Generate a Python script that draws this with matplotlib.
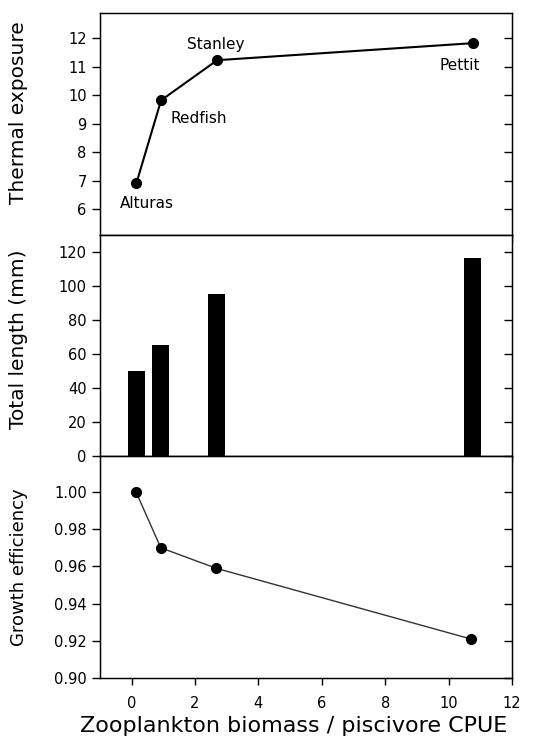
import numpy as np
import matplotlib.pyplot as plt
from matplotlib.ticker import FormatStrFormatter

# datos
lagos = ["Alturas", "Redfish", "Stanley", "Pettit"]
ratio_zoo = [0.15, 0.93, 2.7, 10.78]
exposicion_termica = [6.9, 9.82, 11.23, 11.83]
ratio_barras = [0.15, 0.92, 2.68, 10.76]
largo_total = [50, 65, 95, 116]
ratio_eficiencia = [0.14, 0.92, 2.67, 10.72]
eficiencia = [1.000, 0.970, 0.959, 0.921]

# donde va cada etiqueta respecto del punto (pixeles)
offsets_etiquetas = [(11, -20), (38, -18), (-1, 16), (-14, -22)]

plt.rcParams['font.family'] = ['DejaVu Sans']

fig = plt.figure(figsize=(5.4, 7.47), dpi=100)
gs = fig.add_gridspec(3, 1, left=0.185, right=0.948, top=0.983, bottom=0.092, hspace=0)
ax1 = fig.add_subplot(gs[0])
ax2 = fig.add_subplot(gs[1])
ax3 = fig.add_subplot(gs[2])

#panel 1
ax1.plot(ratio_zoo, exposicion_termica, color='black', linewidth=1.5, marker='o', markersize=7)
for lago, x, y, off in zip(lagos, ratio_zoo, exposicion_termica, offsets_etiquetas):
  ax1.annotate(lago, (x, y), xytext=off, textcoords='offset pixels', ha='center', va='center', fontsize=11)
ax1.set_ylim(5.1, 12.9)
ax1.set_yticks(range(6, 13))
ax1.set_ylabel("Thermal exposure", fontsize=14.5)

#panel 2
ax2.bar(ratio_barras, largo_total, width=0.55, color='black')
ax2.set_ylim(0, 130)
ax2.set_yticks(range(0, 121, 20))
ax2.set_ylabel("Total length (mm)", fontsize=14.5)

#panel 3
ax3.plot(ratio_eficiencia, eficiencia, color='#333333', linewidth=1.0, marker='o', markersize=7,
         markerfacecolor='black', markeredgecolor='black')
ax3.set_ylim(0.90, 1.019)
ax3.set_yticks(np.arange(0.90, 1.001, 0.02))
ax3.yaxis.set_major_formatter(FormatStrFormatter('%.2f'))
ax3.set_ylabel("Growth efficiency", fontsize=13)
ax3.set_xlabel("Zooplankton biomass / piscivore CPUE", fontsize=16, labelpad=8)
ax3.xaxis.set_label_coords(0.47, -0.17)

for ax in (ax1, ax2, ax3):
  ax.set_xlim(-1, 12)
  ax.set_xticks(range(0, 13, 2))
  for s in ax.spines.values():
    s.set_linewidth(1.0)
  ax.tick_params(axis='x', direction='out', length=5, width=1.0, labelsize=10.5, pad=8)
  ax.tick_params(axis='y', direction='out', length=6, width=1.0, labelsize=10.5)

ax1.yaxis.set_label_coords(-0.175, 0.55)
ax2.yaxis.set_label_coords(-0.175, 0.53)
ax3.yaxis.set_label_coords(-0.175, 0.5)

# ticks de la derecha hacia adentro, sin numeros
for ax in (ax1, ax2, ax3):
  der = ax.twinx()
  der.set_ylim(ax.get_ylim())
  der.set_yticks(ax.get_yticks())
  der.tick_params(axis='y', direction='in', length=6, width=1.0, color='black', labelright=False)

ax1.tick_params(axis='x', labelbottom=False)
ax2.tick_params(axis='x', labelbottom=False)

fig.savefig("out.png", dpi=100)
